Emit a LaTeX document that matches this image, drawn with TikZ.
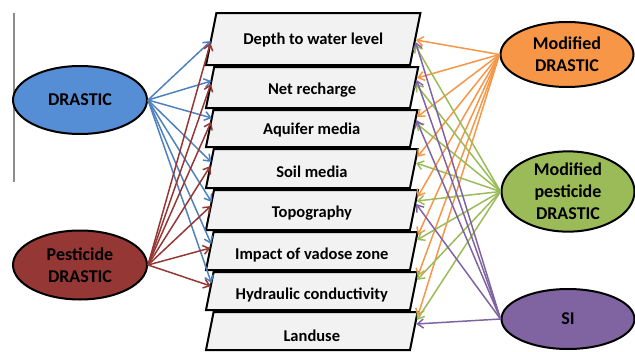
\documentclass[tikz,border=0pt]{standalone}
\usepackage{fontspec}
\setmainfont{Carlito}
\usetikzlibrary{shapes.geometric,arrows.meta}

\definecolor{drblue}{HTML}{558ED5}
\definecolor{drblueline}{HTML}{4F81BD}
\definecolor{pestred}{HTML}{953735}
\definecolor{modorange}{HTML}{F79646}
\definecolor{modgreen}{HTML}{9BBB59}
\definecolor{sipurple}{HTML}{8064A2}
\definecolor{cardfill}{HTML}{F2F2F2}
\definecolor{rulegray}{HTML}{8C8C8C}

% slanted parameter card: name, top y, bottom y, label, label shift
\newcommand\paramcard[5]{%
  \draw[card] (206,#3) -- (410,#3) -- ({410+0.2*(#3-#2)},#2) -- ({206+0.2*(#3-#2)},#2) -- cycle;
  \node[cardtext] (#1) at ({308+0.1*(#3-#2)},{(#2+#3)/2+#5}) {#4};
}

\begin{document}
\begin{tikzpicture}[x=1pt,y=-1pt,
  card/.style={draw=black,fill=cardfill,line width=2pt,line join=miter},
  cardtext/.style={font=\fontsize{16.5}{19}\selectfont\bfseries,inner sep=0pt},
  method/.style={ellipse,draw=black,line width=2pt,inner sep=0pt,align=center,
    font=\fontsize{18}{22}\selectfont\bfseries},
  link/.style={line width=1.5pt,-{Straight Barb[length=6pt,width=9pt,line width=1.5pt]}},
]
\useasboundingbox (0,0) rectangle (635,351);

% thin rule at the far left
\draw[rulegray,line width=1.5pt] (14,13) -- (14,182);

% stacked parameter cards
\paramcard{depth}{13}{65}{Depth to water level}{1}
\paramcard{recharge}{67}{108}{Net recharge}{3}
\paramcard{aquifer}{110}{147}{Aquifer media}{2}
\paramcard{soil}{149}{188}{Soil media}{3}
\paramcard{topo}{190}{230}{Topography}{3}
\paramcard{vadose}{232}{270}{Impact of vadose zone}{4}
\paramcard{hydraulic}{272}{310}{Hydraulic conductivity}{4}
\paramcard{landuse}{312}{350}{Landuse}{5}

% index methods
\node[method,fill=drblue,minimum width=134pt,minimum height=68pt] (drastic) at (80,100) {DRASTIC};
\node[method,fill=pestred,minimum width=134pt,minimum height=69pt] (pest) at (80,265) {Pesticide\\DRASTIC};
\node[method,fill=modorange,minimum width=133pt,minimum height=65pt] (moddr) at (567,54.5) {Modified\\DRASTIC};
\node[method,fill=modgreen,minimum width=133pt,minimum height=77pt] (modpest) at (568,191.5) {Modified\\pesticide\\DRASTIC};
\node[method,fill=sipurple,minimum width=133pt,minimum height=60pt] (si) at (568,319) {SI};

% DRASTIC -> seven parameters
\foreach \i/\b/\y in {1/65/41,2/108/81,3/147/118,4/188/162,5/230/202,6/270/244,7/310/283}{
  \coordinate (dr-\i) at ({206+0.2*(\b-\y)},\y);
  \draw[link,drblueline] (drastic.east) -- (dr-\i);
}
% Pesticide DRASTIC -> seven parameters
\foreach \i/\b/\y in {1/65/43,2/108/84,3/147/122,4/188/166,5/230/206,6/270/248,7/310/286}{
  \coordinate (pd-\i) at ({206+0.2*(\b-\y)},\y);
  \draw[link,pestred] (pest.east) -- (pd-\i);
}
% Modified DRASTIC -> all eight parameters
\foreach \i/\b/\y in {1/65/40,2/108/78,3/147/117,4/188/157,5/230/197,6/270/235,7/310/276,8/350/316}{
  \coordinate (md-\i) at ({411+0.2*(\b-\y)},\y);
  \draw[link,modorange] (moddr.west) -- (md-\i);
}
% Modified pesticide DRASTIC -> all eight parameters
\foreach \i/\b/\y in {1/65/45,2/108/84,3/147/123,4/188/163,5/230/201,6/270/240,7/310/280,8/350/320}{
  \coordinate (mp-\i) at ({411+0.2*(\b-\y)},\y);
  \draw[link,modgreen] (modpest.west) -- (mp-\i);
}
% SI -> D, R, A, T, LU
\foreach \i/\b/\y in {1/65/42,2/108/80,3/147/120,5/230/204,8/350/324}{
  \coordinate (si-\i) at ({411+0.2*(\b-\y)},\y);
  \draw[link,sipurple] (si.west) -- (si-\i);
}
\end{tikzpicture}
\end{document}
